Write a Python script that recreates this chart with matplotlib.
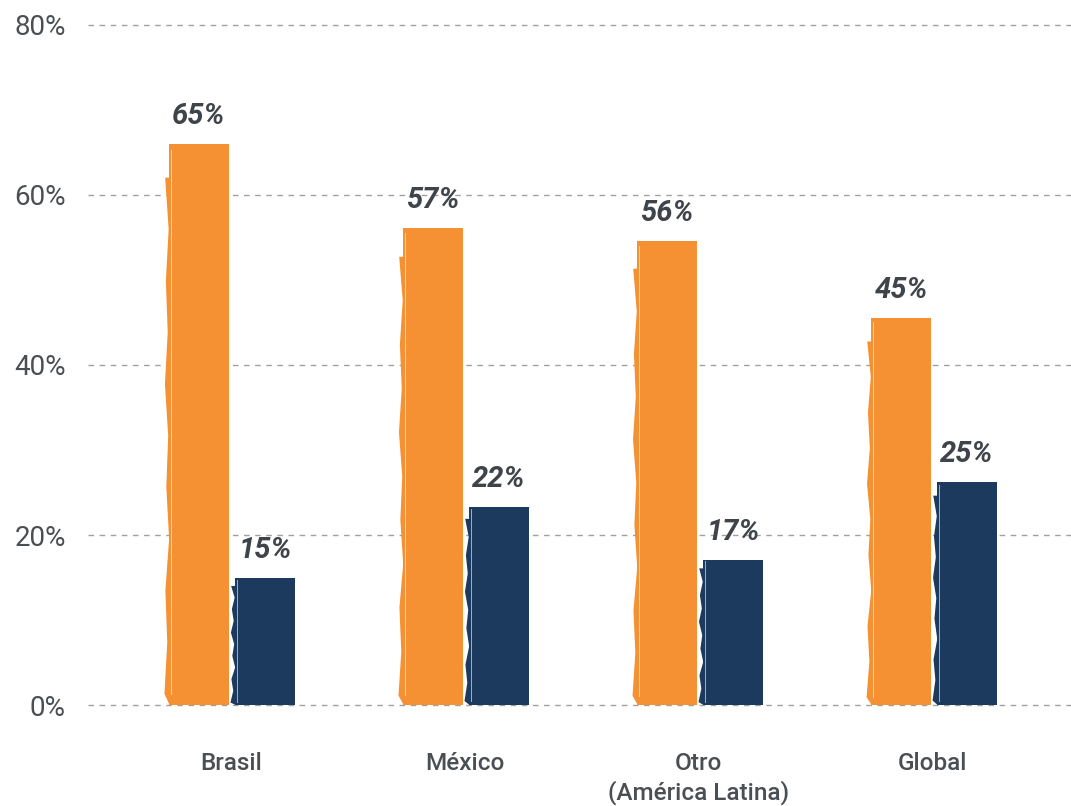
import matplotlib
matplotlib.use("Agg")
import matplotlib.pyplot as plt
import numpy as np

categories = ["Brasil", "México", "Otro\n(América Latina)", "Global"]
orange_vals = [66.0, 56.1, 54.6, 45.5]
navy_vals = [14.9, 23.3, 17.1, 26.2]
orange_labels = ["65%", "57%", "56%", "45%"]
navy_labels = ["15%", "22%", "17%", "25%"]
yticks = [0, 20, 40, 60, 80]
ytick_labels = ["0%", "20%", "40%", "60%", "80%"]

ORANGE = "#F59132"
NAVY = "#1B3A5E"
GRID = "#A0A0A0"
TEXT = "#4A4F54"
LABEL = "#3E4449"

fig = plt.figure(figsize=(10.71, 8.06), dpi=100)
ax = fig.add_axes([0.0822, 0.1253, 0.9178, 0.8437])

x = np.arange(len(categories))
w = 0.265
off = 0.141

b1 = ax.bar(x - off + 0.005, orange_vals, width=w - 0.01, color=ORANGE, zorder=3)
b2 = ax.bar(x + off + 0.005, navy_vals, width=w - 0.01, color=NAVY, zorder=3)

# subtle brush-like left edge
jag = [0.0, 0.012, 0.004, 0.02, 0.008, 0.016, 0.002, 0.014, 0.006, 0.018, 0.003]
for bars in (b1, b2):
    for r in bars:
        x0 = r.get_x()
        h = r.get_height()
        ys = np.linspace(0.02 * h, h * 0.94, len(jag))
        xs = [x0 - 0.02 + j for j in jag]
        poly_x = [x0 + 0.002] + xs + [x0 + 0.002]
        poly_y = [0] + list(ys) + [h * 0.94]
        ax.fill(poly_x, poly_y, color=r.get_facecolor(), lw=0, zorder=3)
        ax.plot([x0 + 0.006, x0 + 0.006], [h * 0.02, h * 0.99], color="white", lw=0.7, alpha=0.6, zorder=4)

for bars, labels in ((b1, orange_labels), (b2, navy_labels)):
    for r, t in zip(bars, labels):
        ax.annotate(t, (r.get_x() + r.get_width() / 2, r.get_height()), xytext=(0, 10),
                    textcoords="offset points", ha="center", va="bottom",
                    fontsize=21, fontweight="bold", fontstyle="italic", family="Roboto", color=LABEL)

ax.set_ylim(0, 80)
ax.set_xlim(-0.61, 3.59)
ax.set_yticks(yticks)
ax.set_yticklabels(ytick_labels)
ax.set_xticks(x)
ax.set_xticklabels(categories, linespacing=1.25)
ax.yaxis.grid(True, linestyle=(0, (4, 4)), color=GRID, linewidth=1, zorder=0)
for gl in ax.get_ygridlines():
    gl.set_clip_on(False)
ax.set_axisbelow(True)
for s in ax.spines.values():
    s.set_visible(False)
ax.tick_params(axis="y", length=0, pad=16, labelsize=20, labelcolor=TEXT)
ax.tick_params(axis="x", length=0, pad=34, labelsize=17.5, labelcolor=TEXT)
for lab in ax.get_yticklabels() + ax.get_xticklabels():
    lab.set_family("Roboto")
for lab in ax.get_xticklabels():
    lab.set_fontweight("medium")

fig.savefig("out.png", dpi=100)
